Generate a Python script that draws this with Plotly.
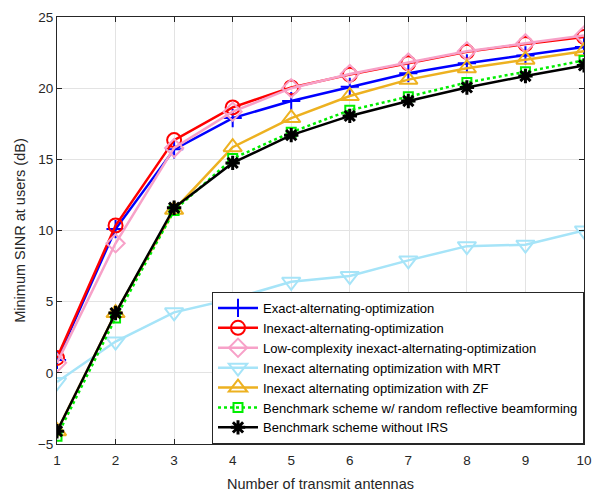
import plotly.graph_objects as go

antennas = [1, 2, 3, 4, 5, 6, 7, 8, 9, 10]
exact_ao = [0.9, 10.1, 15.7, 17.9, 19.1, 20.1, 21.05, 21.75, 22.3, 22.9]
inexact_ao = [1.05, 10.35, 16.35, 18.65, 20.05, 20.95, 21.75, 22.55, 23.1, 23.6]
lowcomp_ao = [0.7, 9.1, 15.8, 18.35, 20.0, 21.0, 21.8, 22.6, 23.15, 23.7]
mrt = [-0.65, 2.2, 4.25, 5.2, 6.4, 6.8, 7.9, 8.9, 9.0, 10.0]
zf = [-4.1, 4.2, 11.45, 15.85, 17.9, 19.45, 20.6, 21.4, 22.0, 22.6]
random_irs = [-4.45, 3.85, 11.4, 15.05, 16.9, 18.45, 19.4, 20.4, 21.15, 21.95]
no_irs = [-4.1, 4.2, 11.6, 14.75, 16.7, 18.05, 19.1, 20.05, 20.85, 21.6]
y_ticks = [-5, 0, 5, 10, 15, 20, 25]

names = [
    "Exact-alternating-optimization",
    "Inexact-alternating-optimization",
    "Low-complexity inexact-alternating-optimization",
    "Inexact alternating optimization with MRT",
    "Inexact alternating optimization with ZF",
    "Benchmark scheme w/ random reflective beamforming",
    "Benchmark scheme without IRS",
]
series = [exact_ao, inexact_ao, lowcomp_ao, mrt, zf, random_irs, no_irs]
colors = ["#0000FF", "#FF0000", "#F7A1C8", "#A6E4F8", "#EDB120", "#00EE00", "#000000"]
symbols = ["cross-thin-open", "circle-open", "diamond-open", "triangle-down-open",
           "triangle-up-open", "square-open", "asterisk-open"]
sizes = [13, 14, 14, 16, 16, 9, 12]
dashes = ["solid", "solid", "solid", "solid", "solid", "dot", "solid"]

fig = go.Figure()
for name, ys, c, s, sz, d in zip(names, series, colors, symbols, sizes, dashes):
    fig.add_trace(go.Scatter(
        x=antennas, y=ys, name=name, mode="lines+markers",
        line=dict(color=c, width=2.5, dash=d),
        marker=dict(symbol=s, size=sz, color=c, line=dict(color=c, width=3 if s == "asterisk-open" else 2)),
    ))

font_family = "Liberation Sans, Arial, sans-serif"
axis_common = dict(
    showgrid=True, gridcolor="#E3E3E3", gridwidth=1,
    showline=True, linecolor="#262626", linewidth=1, mirror="allticks",
    ticks="inside", ticklen=5, tickcolor="#262626",
    tickfont=dict(family=font_family, size=13.5, color="#262626"),
    zeroline=False, automargin=False, ticklabeloverflow="allow",
)
fig.update_xaxes(range=[1, 10], tickvals=antennas, ticklabelstandoff=4, **axis_common,
                 title=dict(text="Number of transmit antennas", standoff=21,
                            font=dict(family=font_family, size=14.5, color="#262626")))
fig.update_yaxes(range=[-5, 25], tickvals=y_ticks, **axis_common,
                 title=dict(text="Minimum SINR at users (dB)", standoff=8,
                            font=dict(family=font_family, size=14.5, color="#262626")))

fig.update_layout(
    width=592, height=492,
    margin=dict(l=57, r=8, t=17, b=48),
    plot_bgcolor="white", paper_bgcolor="white",
    showlegend=True,
    legend=dict(x=1, y=0, xanchor="right", yanchor="bottom",
                bgcolor="white", bordercolor="#262626", borderwidth=1,
                font=dict(family=font_family, size=13, color="#000000"),
                tracegroupgap=0, itemwidth=40),
)
fig.write_html("out.html",
               config={"displayModeBar": False},
               post_script="document.body.style.margin='0';document.body.style.overflow='hidden';")
